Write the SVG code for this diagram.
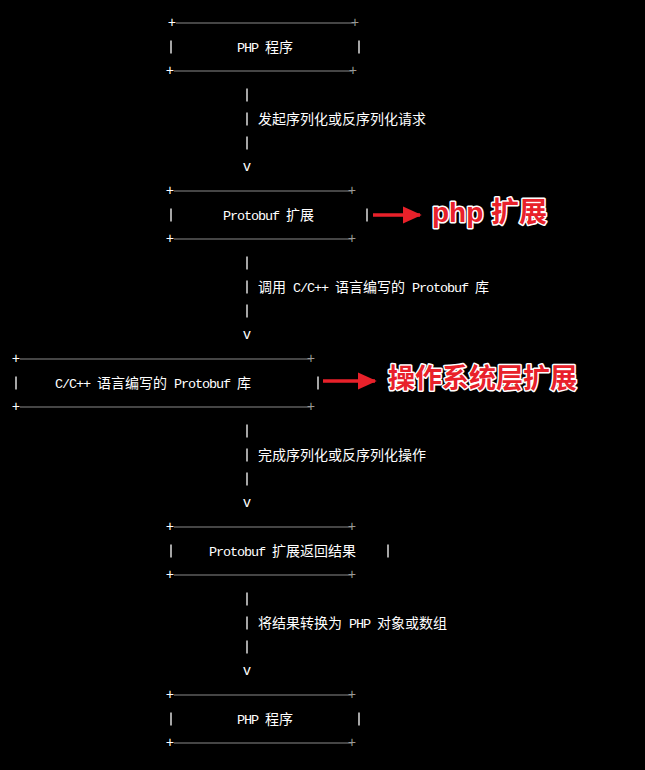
<svg xmlns="http://www.w3.org/2000/svg" width="645" height="770" viewBox="0 0 645 770">
<style>
.t{font-family:"Liberation Mono","Noto Sans CJK SC",monospace;font-size:13.5px;letter-spacing:-1.1px;fill:#fff}
.c{font-family:"Noto Sans CJK SC",sans-serif;font-size:14px;letter-spacing:0}
.pw{font-family:"Liberation Mono",monospace;font-size:14px;fill:#fff;text-anchor:middle}
.pg{font-family:"Liberation Mono",monospace;font-size:14px;fill:#999;text-anchor:middle}
.hl{stroke:#8a8a8a;stroke-width:1.2}
.vb{stroke:#fff;stroke-width:1.3}
.red{font-family:"Liberation Sans","Noto Sans CJK SC",sans-serif;font-weight:bold;font-size:28px;fill:#e8212a;stroke:#fff;stroke-width:3;paint-order:stroke;stroke-linejoin:round}
.ar{stroke:#e8212a;stroke-width:3.5;fill:none}
</style>
<defs>
<marker id="ah" markerWidth="6" markerHeight="6" refX="5" refY="3" orient="auto" markerUnits="strokeWidth"><path d="M0,0.5 L5.5,3 L0,5.5 Z" fill="#e8212a"/></marker>
</defs>
<rect width="645" height="770" fill="#000"/>

<g id="node1">
<line class="hl" x1="176" y1="23" x2="354" y2="23"/><line class="hl" x1="174" y1="71" x2="352" y2="71"/>
<text class="pw" x="172" y="27">+</text><text class="pg" x="355" y="27">+</text>
<text class="pw" x="170" y="75">+</text><text class="pg" x="353" y="75">+</text>
<line class="vb" x1="171" y1="40.5" x2="171" y2="53.5"/><line class="vb" x1="359" y1="40.5" x2="359" y2="53.5"/>
<text class="t" x="237" y="52">PHP <tspan class="c">程序</tspan></text>
</g>

<g id="node2">
<line class="hl" x1="174" y1="191" x2="352" y2="191"/><line class="hl" x1="174" y1="239" x2="352" y2="239"/>
<text class="pw" x="170" y="195">+</text><text class="pg" x="352" y="195">+</text>
<text class="pw" x="170" y="243">+</text><text class="pg" x="352" y="243">+</text>
<line class="vb" x1="171" y1="208.5" x2="171" y2="221.5"/><line class="vb" x1="367" y1="208.5" x2="367" y2="221.5"/>
<text class="t" x="223" y="220">Protobuf <tspan class="c">扩展</tspan></text>
</g>

<g id="node3">
<line class="hl" x1="20" y1="359" x2="311" y2="359"/><line class="hl" x1="20" y1="407" x2="311" y2="407"/>
<text class="pw" x="16" y="363">+</text><text class="pg" x="311" y="363">+</text>
<text class="pw" x="16" y="411">+</text><text class="pg" x="311" y="411">+</text>
<line class="vb" x1="16" y1="376.5" x2="16" y2="389.5"/><line class="vb" x1="318" y1="376.5" x2="318" y2="389.5"/>
<text class="t" x="55" y="388">C/C++ <tspan class="c">语言编写的</tspan> Protobuf <tspan class="c">库</tspan></text>
</g>

<g id="node4">
<line class="hl" x1="174" y1="527" x2="352" y2="527"/><line class="hl" x1="174" y1="575" x2="352" y2="575"/>
<text class="pw" x="170" y="531">+</text><text class="pg" x="352" y="531">+</text>
<text class="pw" x="170" y="579">+</text><text class="pg" x="352" y="579">+</text>
<line class="vb" x1="171" y1="544.5" x2="171" y2="557.5"/><line class="vb" x1="388" y1="544.5" x2="388" y2="557.5"/>
<text class="t" x="209" y="556">Protobuf <tspan class="c">扩展返回结果</tspan></text>
</g>

<g id="node5">
<line class="hl" x1="174" y1="695" x2="352" y2="695"/><line class="hl" x1="174" y1="743" x2="352" y2="743"/>
<text class="pw" x="170" y="699">+</text><text class="pg" x="352" y="699">+</text>
<text class="pw" x="170" y="747">+</text><text class="pg" x="352" y="747">+</text>
<line class="vb" x1="171" y1="712.5" x2="171" y2="725.5"/><line class="vb" x1="359" y1="712.5" x2="359" y2="725.5"/>
<text class="t" x="237" y="724">PHP <tspan class="c">程序</tspan></text>
</g>

<g id="connectors">
<line class="vb" x1="247" y1="88.5" x2="247" y2="101.5"/><line class="vb" x1="247" y1="112.5" x2="247" y2="125.5"/><line class="vb" x1="247" y1="136.5" x2="247" y2="149.5"/><text class="pw" x="247" y="171">v</text>
<text class="t" x="258" y="124"><tspan class="c">发起序列化或反序列化请求</tspan></text>
<line class="vb" x1="247" y1="256.5" x2="247" y2="269.5"/><line class="vb" x1="247" y1="280.5" x2="247" y2="293.5"/><line class="vb" x1="247" y1="304.5" x2="247" y2="317.5"/><text class="pw" x="247" y="339">v</text>
<text class="t" x="258" y="292"><tspan class="c">调用</tspan> C/C++ <tspan class="c">语言编写的</tspan> Protobuf <tspan class="c">库</tspan></text>
<line class="vb" x1="247" y1="424.5" x2="247" y2="437.5"/><line class="vb" x1="247" y1="448.5" x2="247" y2="461.5"/><line class="vb" x1="247" y1="472.5" x2="247" y2="485.5"/><text class="pw" x="247" y="507">v</text>
<text class="t" x="258" y="460"><tspan class="c">完成序列化或反序列化操作</tspan></text>
<line class="vb" x1="247" y1="592.5" x2="247" y2="605.5"/><line class="vb" x1="247" y1="616.5" x2="247" y2="629.5"/><line class="vb" x1="247" y1="640.5" x2="247" y2="653.5"/><text class="pw" x="247" y="675">v</text>
<text class="t" x="258" y="628"><tspan class="c">将结果转换为</tspan> PHP <tspan class="c">对象或数组</tspan></text>
<line class="ar" x1="373" y1="215" x2="420" y2="215" marker-end="url(#ah)"/>
<line class="ar" x1="323" y1="381" x2="375" y2="381" marker-end="url(#ah)"/>
</g>

<g id="annotations">
<text class="red" x="432" y="222">php 扩展</text>
<text class="red" x="388" y="388" style="font-size:27px">操作系统层扩展</text>
</g>
</svg>
